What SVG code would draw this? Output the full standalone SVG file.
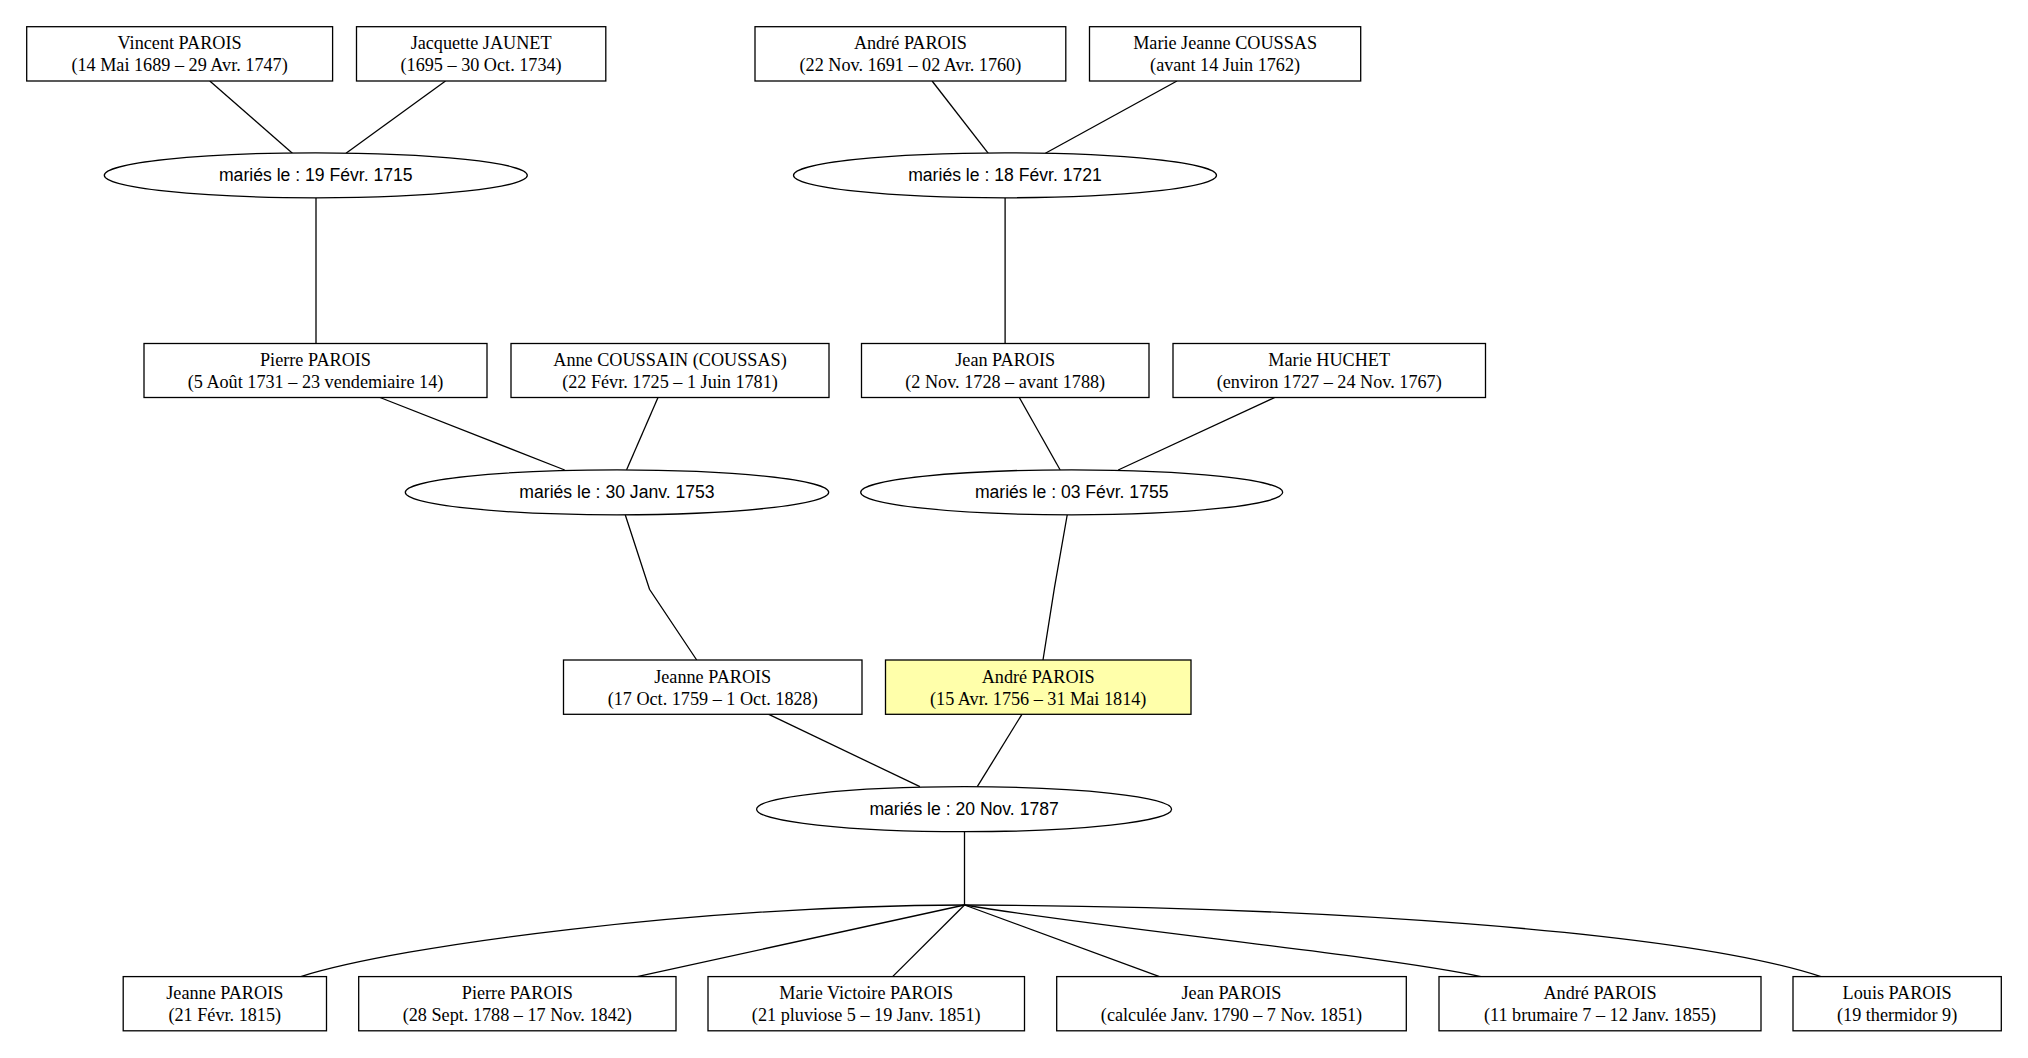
<svg xmlns="http://www.w3.org/2000/svg" width="2028" height="1058" viewBox="0 0 2028 1058">
<style>
.box{fill:#ffffff;stroke:#000;stroke-width:1.3}
.hl{fill:#ffffaa}
.ell{fill:#ffffff;stroke:#000;stroke-width:1.3}
.t{font-family:"Liberation Serif","Times New Roman",serif;font-size:18.2px;text-anchor:middle;fill:#000}
.et{font-family:"Liberation Sans",Arial,sans-serif;font-size:17.6px;text-anchor:middle;fill:#000}
.edges path{fill:none;stroke:#000;stroke-width:1.3}
</style>
<rect width="2028" height="1058" fill="#ffffff"/>
<g class="edges" id="connectors">
<path d="M209.8,81 L292.4,153.3"/>
<path d="M445.5,81 L346,153.3"/>
<path d="M932.1,81 L988.3,153.3"/>
<path d="M1177,81 L1045.4,153.3"/>
<path d="M316,197.8 L316,270 L316,343.5"/>
<path d="M1005.1,197.8 L1005.1,270 L1005.1,343.5"/>
<path d="M380,397.5 L564.7,470"/>
<path d="M658,397.5 L626.5,470"/>
<path d="M1019.3,397.5 L1060.2,470"/>
<path d="M1274.8,397.5 L1118.2,470"/>
<path d="M625.3,515 L649.5,589.3 L696.7,660"/>
<path d="M1067.2,515 L1054.5,587.3 L1043,660"/>
<path d="M768.8,714.3 L919.9,786.7"/>
<path d="M1021.9,714.3 L977.3,786.7"/>
<path d="M964.5,831.5 L964.5,905"/>
<path d="M964.5,905 C700,906 400,945 300.8,976.6"/>
<path d="M964.5,905 L637.1,976.6"/>
<path d="M964.5,905 L892.6,976.6"/>
<path d="M964.5,905 L1159.5,976.6"/>
<path d="M964.5,905 C1100,928 1380,955 1481,976.6"/>
<path d="M964.5,905 C1300,906 1680,930 1821,976.6"/>
</g>
<g id="n_vincent"><rect class="box" x="26.7" y="26.7" width="305.9" height="54.3"/><text class="t" x="179.6" y="49.3">Vincent PAROIS</text><text class="t" x="179.6" y="71.3">(14 Mai 1689 – 29 Avr. 1747)</text></g>
<g id="n_jacquette"><rect class="box" x="356.5" y="26.7" width="249.3" height="54.3"/><text class="t" x="481.1" y="49.3">Jacquette JAUNET</text><text class="t" x="481.1" y="71.3">(1695 – 30 Oct. 1734)</text></g>
<g id="n_andre1"><rect class="box" x="755" y="26.7" width="310.8" height="54.3"/><text class="t" x="910.4" y="49.3">André PAROIS</text><text class="t" x="910.4" y="71.3">(22 Nov. 1691 – 02 Avr. 1760)</text></g>
<g id="n_mariejeanne"><rect class="box" x="1089.5" y="26.7" width="271.2" height="54.3"/><text class="t" x="1225.1" y="49.3">Marie Jeanne COUSSAS</text><text class="t" x="1225.1" y="71.3">(avant 14 Juin 1762)</text></g>
<g id="m1715"><ellipse class="ell" cx="315.8" cy="175.3" rx="211.5" ry="22.5"/><text class="et" x="315.8" y="180.8">mariés le : 19 Févr. 1715</text></g>
<g id="m1721"><ellipse class="ell" cx="1005" cy="175.3" rx="211.5" ry="22.5"/><text class="et" x="1005" y="180.8">mariés le : 18 Févr. 1721</text></g>
<g id="n_pierre"><rect class="box" x="144" y="343.5" width="343" height="54"/><text class="t" x="315.5" y="366">Pierre PAROIS</text><text class="t" x="315.5" y="388">(5 Août 1731 – 23 vendemiaire 14)</text></g>
<g id="n_anne"><rect class="box" x="511" y="343.5" width="318" height="54"/><text class="t" x="670" y="366">Anne COUSSAIN (COUSSAS)</text><text class="t" x="670" y="388">(22 Févr. 1725 – 1 Juin 1781)</text></g>
<g id="n_jean"><rect class="box" x="861.5" y="343.5" width="287.5" height="54"/><text class="t" x="1005.2" y="366">Jean PAROIS</text><text class="t" x="1005.2" y="388">(2 Nov. 1728 – avant 1788)</text></g>
<g id="n_huchet"><rect class="box" x="1173" y="343.5" width="312.5" height="54"/><text class="t" x="1329.2" y="366">Marie HUCHET</text><text class="t" x="1329.2" y="388">(environ 1727 – 24 Nov. 1767)</text></g>
<g id="m1753"><ellipse class="ell" cx="617" cy="492.3" rx="211.7" ry="22.5"/><text class="et" x="617" y="497.8">mariés le : 30 Janv. 1753</text></g>
<g id="m1755"><ellipse class="ell" cx="1071.7" cy="492.3" rx="211" ry="22.5"/><text class="et" x="1071.7" y="497.8">mariés le : 03 Févr. 1755</text></g>
<g id="n_jeanne"><rect class="box" x="563.5" y="660" width="298.5" height="54.3"/><text class="t" x="712.7" y="682.6">Jeanne PAROIS</text><text class="t" x="712.7" y="704.6">(17 Oct. 1759 – 1 Oct. 1828)</text></g>
<g id="n_andre2"><rect class="box hl" x="885.5" y="660" width="305.5" height="54.3"/><text class="t" x="1038.2" y="682.6">André PAROIS</text><text class="t" x="1038.2" y="704.6">(15 Avr. 1756 – 31 Mai 1814)</text></g>
<g id="m1787"><ellipse class="ell" cx="964.1" cy="809.2" rx="207.5" ry="22.5"/><text class="et" x="964.1" y="814.7">mariés le : 20 Nov. 1787</text></g>
<g id="c_jeanne"><rect class="box" x="123.2" y="976.6" width="203.3" height="54.2"/><text class="t" x="224.8" y="999.2">Jeanne PAROIS</text><text class="t" x="224.8" y="1021.2">(21 Févr. 1815)</text></g>
<g id="c_pierre"><rect class="box" x="358.7" y="976.6" width="317.3" height="54.2"/><text class="t" x="517.3" y="999.2">Pierre PAROIS</text><text class="t" x="517.3" y="1021.2">(28 Sept. 1788 – 17 Nov. 1842)</text></g>
<g id="c_marievictoire"><rect class="box" x="708" y="976.6" width="316.5" height="54.2"/><text class="t" x="866.2" y="999.2">Marie Victoire PAROIS</text><text class="t" x="866.2" y="1021.2">(21 pluviose 5 – 19 Janv. 1851)</text></g>
<g id="c_jean"><rect class="box" x="1056.7" y="976.6" width="349.6" height="54.2"/><text class="t" x="1231.5" y="999.2">Jean PAROIS</text><text class="t" x="1231.5" y="1021.2">(calculée Janv. 1790 – 7 Nov. 1851)</text></g>
<g id="c_andre"><rect class="box" x="1439" y="976.6" width="322" height="54.2"/><text class="t" x="1600" y="999.2">André PAROIS</text><text class="t" x="1600" y="1021.2">(11 brumaire 7 – 12 Janv. 1855)</text></g>
<g id="c_louis"><rect class="box" x="1793" y="976.6" width="208.3" height="54.2"/><text class="t" x="1897.1" y="999.2">Louis PAROIS</text><text class="t" x="1897.1" y="1021.2">(19 thermidor 9)</text></g>
</svg>
